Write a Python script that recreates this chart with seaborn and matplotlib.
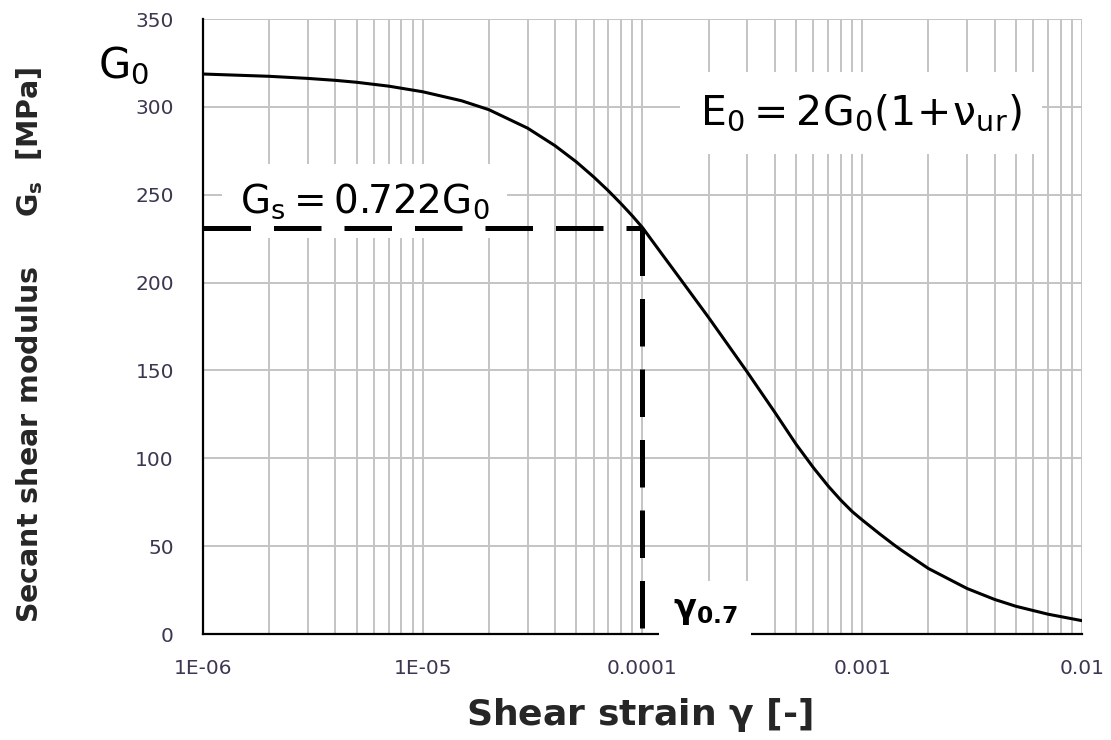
import numpy as np
import pandas as pd
import matplotlib
matplotlib.use("Agg")
import matplotlib.pyplot as plt
from matplotlib.ticker import FixedLocator, FixedFormatter, LogLocator, NullFormatter
import seaborn as sns

# Secant shear modulus degradation curve
strain = [1e-6, 2e-6, 3e-6, 4e-6, 5e-6, 7e-6, 1e-5, 1.5e-5, 2e-5, 3e-5, 4e-5,
          5e-5, 6e-5, 7e-5, 8e-5, 9e-5, 1e-4, 1.25e-4, 1.5e-4, 2e-4, 2.5e-4,
          3e-4, 4e-4, 5e-4, 6e-4, 7e-4, 8e-4, 9e-4, 1e-3, 1.2e-3, 1.4e-3,
          1.5e-3, 2e-3, 3e-3, 4e-3, 5e-3, 7e-3, 1e-2]
g_secant = [318.7, 317.4, 316.2, 315.1, 314.0, 311.8, 308.6, 303.5, 298.4, 287.9, 277.9,
            268.7, 260.1, 252.2, 244.8, 237.9, 231.3, 214.8, 201.4, 180.1, 163.0,
            149.0, 126.2, 108.0, 94.6, 84.2, 76.1, 69.7, 64.9, 57.0, 50.6,
            47.9, 37.3, 25.9, 19.7, 15.8, 11.3, 7.6]

# Threshold strain and the modulus reached there
gamma_07 = 1e-4
g_at_gamma07 = 231.3

x_tick_values = [1e-6, 1e-5, 1e-4, 1e-3, 1e-2]
x_tick_labels = ["1E-06", "1E-05", "0.0001", "0.001", "0.01"]
y_tick_values = [0, 50, 100, 150, 200, 250, 300, 350]

sns.set_theme(style="white")
plt.rcParams["font.family"] = ["DejaVu Sans"]
plt.rcParams["mathtext.fontset"] = "dejavusans"

fig = plt.figure(figsize=(11.11, 7.40), dpi=100)
ax = fig.add_axes([0.1827, 0.1432, 0.7912, 0.8311])
ax.set_xscale("log")

df = pd.DataFrame({"strain": strain, "G": g_secant})
sns.lineplot(data=df, x="strain", y="G", ax=ax, color="black", linewidth=2.2,
             zorder=4, sort=True)

# Dashed guide lines at the threshold strain
dash_style = dict(color="black", linewidth=3.6, dashes=(9.5, 4.6), zorder=5,
                  dash_capstyle="butt")
ax.plot([x_tick_values[0], gamma_07], [g_at_gamma07, g_at_gamma07], **dash_style)
ax.plot([gamma_07, gamma_07], [g_at_gamma07, 0], **dash_style)

ax.set_xlim(x_tick_values[0], x_tick_values[-1])
ax.set_ylim(y_tick_values[0], y_tick_values[-1])

ax.xaxis.set_major_locator(FixedLocator(x_tick_values))
ax.xaxis.set_major_formatter(FixedFormatter(x_tick_labels))
ax.xaxis.set_minor_locator(LogLocator(base=10, subs=np.arange(2, 10)))
ax.xaxis.set_minor_formatter(NullFormatter())
ax.yaxis.set_major_locator(FixedLocator(y_tick_values))

grid_color = "#c4c4c4"
ax.grid(True, which="major", axis="both", color=grid_color, linewidth=1.4, zorder=0)
ax.grid(True, which="minor", axis="x", color=grid_color, linewidth=1.4, zorder=0)
ax.set_axisbelow(True)

for side in ("top", "right"):
    ax.spines[side].set_visible(False)
for side in ("left", "bottom"):
    ax.spines[side].set_color("black")
    ax.spines[side].set_linewidth(1.6)

tick_color = "#3d3650"
ax.tick_params(axis="both", which="major", direction="out", length=7, width=1.5,
               color="black", labelsize=14.5, labelcolor=tick_color)
ax.tick_params(axis="x", which="major", pad=11)
ax.tick_params(axis="y", which="major", pad=14)
ax.tick_params(axis="x", which="minor", length=0)

ax.set_xlabel(r"Shear strain $\mathbf{\gamma}$ [-]", fontsize=26, fontweight="bold")
ax.xaxis.set_label_coords(0.497, -0.1)
ax.set_ylabel(r"Secant shear modulus     $\mathbf{G_s}$  [MPa]", fontsize=20.5,
              fontweight="bold")
ax.yaxis.set_label_coords(-0.18, 0.47)

box = dict(facecolor="white", edgecolor="none")

ax.text(1.47e-6, 240, r"$\mathrm{G_s = 0.722G_0}$", fontsize=28, color="black",
        ha="left", va="baseline", zorder=3,
        bbox=dict(boxstyle="square,pad=0.45", **box))

ax.text(1.83e-4, 290, r"$\mathrm{E_0 = 2G_0(1\!+\!\nu_{ur})}$", fontsize=29.5,
        color="black", ha="left", va="baseline", zorder=3,
        bbox=dict(boxstyle="square,pad=0.5", **box))

ax.text(1.37e-4, 9, r"$\mathbf{\gamma_{0.7}}$", fontsize=24, color="black",
        ha="left", va="baseline", zorder=3,
        bbox=dict(boxstyle="square,pad=0.4", **box))

fig.text(98 / 1111, 1 - 78 / 740, r"$\mathrm{G_0}$", fontsize=30, color="black",
         ha="left", va="baseline")

fig.savefig("out.png", dpi=100, facecolor="white")
